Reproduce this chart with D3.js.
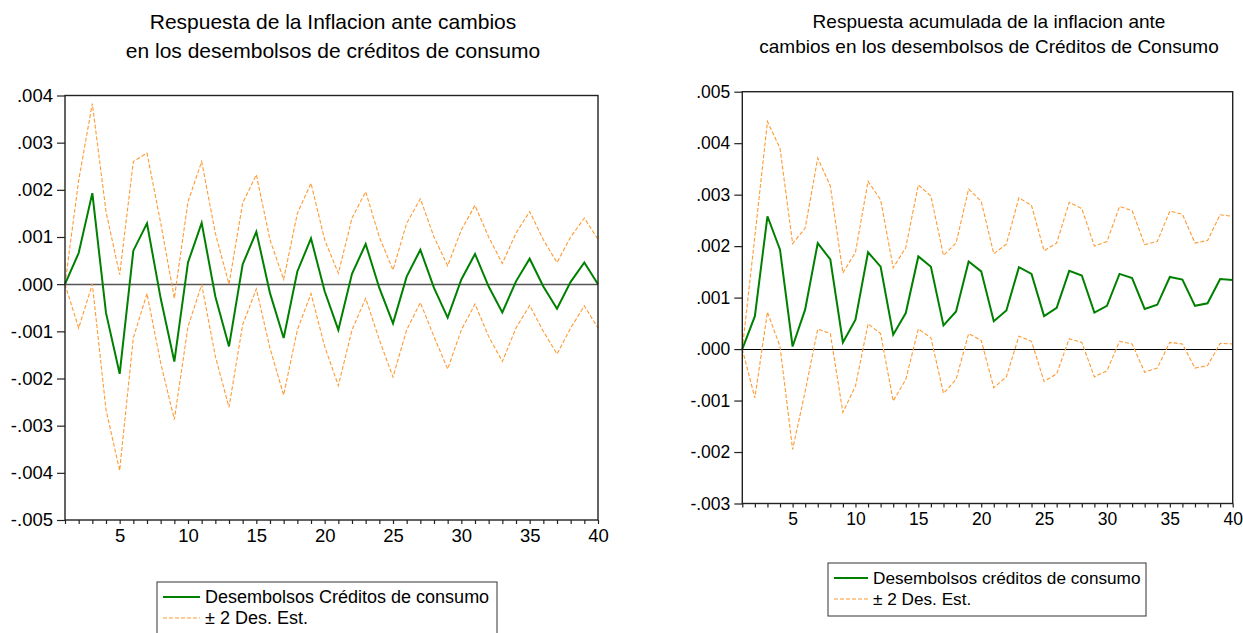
<html>
  <head>
    <title>Respuesta de la inflacion</title>
    <meta charset="utf-8" />
    <script src="https://cdnjs.cloudflare.com/ajax/libs/d3/7.6.1/d3.min.js"></script>
    <style>
      body { margin: 0; background: #fff; }
      svg { font-family: "Liberation Sans", Arial, sans-serif; }
    </style>
  </head>
  <body>
    <svg width="1243" height="633"></svg>
  </body>

  <script>
    // horizon 1..40
    let periods = d3.range(1, 41);
    let xTickLabels = [5, 10, 15, 20, 25, 30, 35, 40];

    // left: impulse response
    let irf = [0, 0.00066, 0.00193, -0.00061, -0.0019, 0.00071, 0.00129, -0.0003, -0.00164, 0.00046,
      0.0013, -0.00026, -0.00132, 0.00042, 0.00111, -0.00019, -0.00114, 0.00027, 0.00097, -0.00015,
      -0.00097, 0.00022, 0.00085, -0.00008, -0.00083, 0.00016, 0.00073, -0.00008, -0.00071, 0.0001,
      0.00064, -0.00005, -0.0006, 0.00006, 0.00054, -0.00005, -0.00052, 0.00005, 0.00046, 0.0];
    let irfUpper = [0, 0.0022, 0.00383, 0.00154, 0.0002, 0.0026, 0.00278, 0.0013, -0.0003, 0.00175,
      0.0026, 0.00108, 0.0, 0.00172, 0.00232, 0.00094, 0.0001, 0.0015, 0.00214, 0.00094,
      0.00023, 0.0014, 0.00196, 0.001, 0.0003, 0.00129, 0.00181, 0.001, 0.00039, 0.00115,
      0.00167, 0.001, 0.00044, 0.00108, 0.00154, 0.00094, 0.00046, 0.001, 0.0014, 0.00095];
    let irfLower = [0, -0.00093, 0.0, -0.00266, -0.00395, -0.00114, -0.0002, -0.00167, -0.00287, -0.0009,
      -0.00001, -0.00153, -0.00261, -0.00086, -0.0001, -0.00136, -0.00235, -0.00097, -0.0002, -0.00132,
      -0.00215, -0.00097, -0.0003, -0.00118, -0.00197, -0.00097, -0.00039, -0.00111, -0.0018, -0.00097,
      -0.00042, -0.00111, -0.00164, -0.00093, -0.00045, -0.001, -0.00148, -0.00093, -0.00046, -0.00093];
    let irfTicks = [0.004, 0.003, 0.002, 0.001, 0, -0.001, -0.002, -0.003, -0.004, -0.005];

    // right: accumulated response
    let acc = [0, 0.00064, 0.00258, 0.00193, 0.00005, 0.00077, 0.00206, 0.00174, 0.00013, 0.00057,
      0.00188, 0.0016, 0.00028, 0.0007, 0.0018, 0.0016, 0.00046, 0.00073, 0.0017, 0.00151,
      0.00054, 0.00075, 0.00159, 0.00146, 0.00064, 0.0008, 0.00152, 0.00143, 0.00071, 0.00084,
      0.00146, 0.00138, 0.00078, 0.00086, 0.0014, 0.00135, 0.00084, 0.00089, 0.00136, 0.00134];
    let accUpper = [0, 0.00219, 0.00442, 0.0039, 0.00205, 0.00235, 0.00371, 0.00317, 0.00148, 0.00188,
      0.00326, 0.0029, 0.00158, 0.00197, 0.00319, 0.00297, 0.00182, 0.00206, 0.00311, 0.00287,
      0.00185, 0.00204, 0.00294, 0.00279, 0.00191, 0.00206, 0.00285, 0.00273, 0.002, 0.00209,
      0.00277, 0.00269, 0.00203, 0.00209, 0.00268, 0.00262, 0.00206, 0.00211, 0.00261, 0.00258];
    let accLower = [0, -0.00095, 0.00072, 0.00005, -0.00195, -0.00082, 0.00039, 0.0003, -0.00123, -0.00072,
      0.00049, 0.0003, -0.00101, -0.00059, 0.00039, 0.00022, -0.00086, -0.00059, 0.0003, 0.00017,
      -0.00075, -0.00054, 0.00025, 0.00015, -0.00063, -0.00048, 0.0002, 0.00013, -0.00054, -0.00042,
      0.00015, 0.0001, -0.00045, -0.00037, 0.00013, 0.0001, -0.00037, -0.00032, 0.00011, 0.0001];
    let accTicks = [0.005, 0.004, 0.003, 0.002, 0.001, 0, -0.001, -0.002, -0.003];

    let bandLabel = "\u00b1 2 Des. Est.";

    let svg = d3.select("svg");
    let green = "#008000";
    let orange = "#ff9a33";

    // eviews style labels: .004, -.001
    let fmt = (v) => (v < -1e-9 ? "-" : "") + Math.abs(v).toFixed(3).slice(1);

    function drawPanel(p) {
      let g = svg.append("g");
      let x = d3.scaleLinear().domain([1, 40]).range([p.left, p.right]);
      let y = d3.scaleLinear().domain(d3.extent(p.ticks)).range([p.bottom, p.top]);

      // titles
      g.selectAll("text.title")
        .data(p.title)
        .enter()
        .append("text")
        .attr("x", p.titleX)
        .attr("y", (d, i) => p.titleY + i * p.titleGap)
        .attr("text-anchor", "middle")
        .style("font-size", p.titleSize + "px")
        .text((d) => d);

      // zero line
      g.append("line")
        .attr("x1", p.left).attr("x2", p.right)
        .attr("y1", Math.round(y(0)) + 0.5).attr("y2", Math.round(y(0)) + 0.5)
        .style("stroke", p.zeroColor)
        .style("stroke-width", p.zeroWidth);

      let line = d3.line().x((d, i) => x(periods[i])).y((d) => y(d));

      [p.upper, p.lower].forEach((s) => {
        g.append("path")
          .attr("d", line(s))
          .style("fill", "none")
          .style("stroke", orange)
          .style("stroke-width", 1.1)
          .style("stroke-dasharray", "4,2");
      });
      g.append("path")
        .attr("d", line(p.mid))
        .style("fill", "none")
        .style("stroke", green)
        .style("stroke-width", 2);

      // frame
      g.append("rect")
        .attr("x", p.left).attr("y", p.top)
        .attr("width", p.right - p.left).attr("height", p.bottom - p.top)
        .style("fill", "none")
        .style("stroke", "#222")
        .style("stroke-width", 1.4);

      let yAxis = d3.axisLeft(y).tickValues(p.ticks).tickFormat(fmt).tickSize(8).tickPadding(4);
      let ya = g.append("g").attr("transform", `translate(${p.left},0)`).call(yAxis);
      ya.select(".domain").remove();

      let xAxis = d3.axisBottom(x).tickValues(periods).tickSize(4).tickPadding(p.xPad)
        .tickFormat((d) => (xTickLabels.includes(d) ? d : ""));
      let xa = g.append("g").attr("transform", `translate(0,${p.bottom})`).call(xAxis);
      xa.select(".domain").remove();

      [ya, xa].forEach((a) => {
        a.selectAll("text").style("font-size", p.tickSize + "px").style("fill", "#000")
          .style("font-family", "Liberation Sans, Arial, sans-serif");
        a.selectAll("line").style("stroke", "#222").style("stroke-width", 1.2);
      });

      // legend
      let lg = g.append("g");
      lg.append("rect")
        .attr("x", p.legX).attr("y", p.legY)
        .attr("width", p.legW).attr("height", p.legH)
        .style("fill", "#fff").style("stroke", "#333").style("stroke-width", 1);
      let rows = [
        { label: p.legendMain, color: green, width: 2, dash: null },
        { label: bandLabel, color: orange, width: 1.1, dash: "4,2" },
      ];
      rows.forEach((r, i) => {
        let cy = p.legY + p.legRow0 + i * p.legRowGap;
        lg.append("line")
          .attr("x1", p.legX + 6).attr("x2", p.legX + 6 + p.legSample)
          .attr("y1", cy).attr("y2", cy)
          .style("stroke", r.color).style("stroke-width", r.width)
          .style("stroke-dasharray", r.dash);
        lg.append("text")
          .attr("x", p.legX + 11 + p.legSample)
          .attr("y", cy + p.legSize * 0.36)
          .style("font-size", p.legSize + "px")
          .text(r.label);
      });
    }

    drawPanel({
      left: 65, right: 598, top: 95.5, bottom: 520,
      ticks: irfTicks, mid: irf, upper: irfUpper, lower: irfLower,
      title: ["Respuesta de la Inflacion ante cambios", "en los desembolsos de créditos de consumo"],
      titleX: 333, titleY: 29, titleGap: 29, titleSize: 21,
      zeroColor: "#555", zeroWidth: 1.6,
      tickSize: 18.5, xPad: 5,
      legX: 157, legY: 582, legW: 340, legH: 70, legRow0: 15, legRowGap: 21,
      legSample: 37, legSize: 18,
      legendMain: "Desembolsos Créditos de consumo",
    });

    drawPanel({
      left: 742.3, right: 1232.7, top: 91.7, bottom: 503.5,
      ticks: accTicks, mid: acc, upper: accUpper, lower: accLower,
      title: ["Respuesta acumulada de la inflacion ante", "cambios en los desembolsos de Créditos de Consumo"],
      titleX: 989, titleY: 28, titleGap: 25, titleSize: 19,
      zeroColor: "#000", zeroWidth: 1,
      tickSize: 17.5, xPad: 5,
      legX: 828, legY: 563, legW: 318, legH: 53, legRow0: 15, legRowGap: 21,
      legSample: 34, legSize: 17.2,
      legendMain: "Desembolsos créditos de consumo",
    });
  </script>
</html>
